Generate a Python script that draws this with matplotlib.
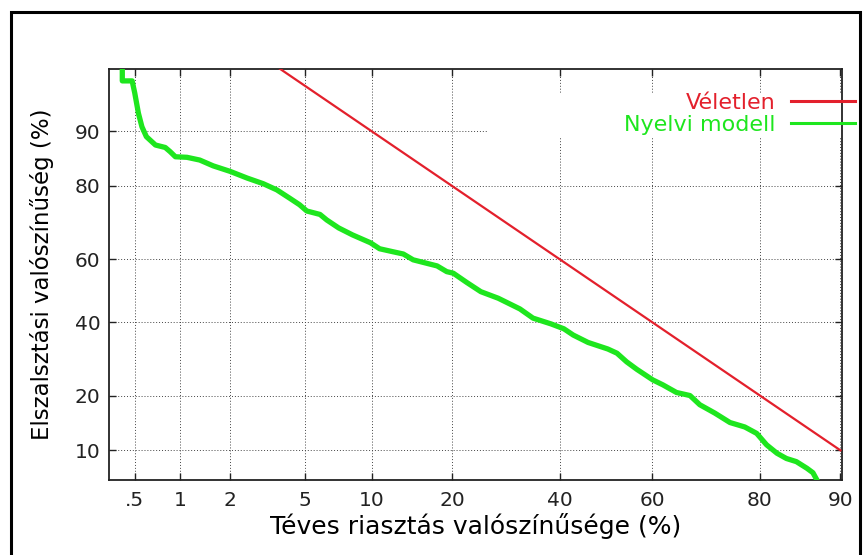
import numpy as np
import matplotlib
matplotlib.use("Agg")
import matplotlib.pyplot as plt
from matplotlib.patches import Rectangle
from statistics import NormalDist

plt.rcParams['font.family'] = ['DejaVu Sans']

# Adatok (százalékban)
tick_values = [0.5, 1, 2, 5, 10, 20, 40, 60, 80, 90]
tick_labels = ['.5', '1', '2', '5', '10', '20', '40', '60', '80', '90']
ytick_values = [10, 20, 40, 60, 80, 90]
ytick_labels = ['10', '20', '40', '60', '80', '90']

veletlen_fa = [1, 90]
veletlen_miss = [99, 10]

nyelvi_fa = [0.41, 0.41, 0.48, 0.50, 0.53, 0.56, 0.60, 0.69, 0.80, 0.86,
             0.93, 1.10, 1.32, 1.59, 2.0, 2.5, 3.05, 3.6, 4.2, 4.7,
             5.1, 5.9, 6.35, 7.2, 8.3, 9.9, 10.8, 12.2, 13.4, 14.6,
             16.4, 17.8, 19.2, 20.2, 22.3, 24.7, 27.8, 31.9, 34.5, 38.2,
             40.9, 42.9, 46.1, 50.4, 52.4, 54.5, 56.7, 60.1, 62.2, 65.0,
             67.7, 69.6, 72.4, 75.1, 77.6, 79.5, 81.0, 82.5, 83.8, 85.1,
             86.4, 87.1, 87.7]
nyelvi_miss = [97.0, 95.4, 95.4, 94.4, 92.3, 90.6, 89.2, 87.9, 87.5, 86.8,
               85.9, 85.8, 85.3, 84.2, 83.1, 81.7, 80.5, 79.1, 77.1, 75.5,
               73.9, 73.0, 71.5, 69.3, 67.3, 65.0, 63.2, 62.3, 61.6, 59.8,
               58.7, 57.9, 56.1, 55.6, 52.7, 49.7, 47.6, 44.2, 41.3, 39.5,
               38.0, 36.1, 33.9, 32.0, 30.8, 28.4, 26.4, 23.7, 22.5, 20.7,
               20.0, 18.0, 16.3, 14.5, 13.7, 12.6, 10.8, 9.6, 8.9, 8.5,
               7.7, 7.2, 6.2]

# Probit skála (DET görbe)
_nd = NormalDist()
_ppf = np.vectorize(lambda p: _nd.inv_cdf(min(max(p / 100.0, 1e-9), 1 - 1e-9)),
                    otypes=[float])
_cdf = np.vectorize(lambda z: 100.0 * _nd.cdf(z), otypes=[float])


def probit(p):
    return _ppf(np.asarray(p, dtype=float))


def inv_probit(z):
    return _cdf(np.asarray(z, dtype=float))


fig = plt.figure(figsize=(8.63, 5.55), dpi=100)
ax = fig.add_axes([109 / 863, 1 - 480 / 555, 733 / 863, 411 / 555])
ax.set_xscale('function', functions=(probit, inv_probit))
ax.set_yscale('function', functions=(probit, inv_probit))

ax.plot(veletlen_fa, veletlen_miss, color='#e3202c', lw=1.6, label='Véletlen', zorder=3)
ax.plot(nyelvi_fa, nyelvi_miss, color='#1ee61e', lw=3.8, label='Nyelvi modell', zorder=4)

ax.set_xlim(0.33, 90.15)
ax.set_ylim(6.43, 96.25)
ax.set_xticks(tick_values)
ax.set_xticklabels(tick_labels)
ax.set_yticks(ytick_values)
ax.set_yticklabels(ytick_labels)
ax.minorticks_off()
ax.tick_params(direction='in', length=5, width=1, top=True, right=True,
               labelsize=14.5, colors='#222222')
ax.tick_params(axis='x', pad=8)
ax.tick_params(axis='y', pad=6)
ax.grid(True, color='#444444', linestyle=(0, (1, 2)), linewidth=0.7)
for s in ax.spines.values():
    s.set_linewidth(1.3)
    s.set_color('#222222')

# a jelmagyarázat alatti üres sáv
ax.add_patch(Rectangle((0.516, 0.835), 0.49, 0.107, transform=ax.transAxes,
                       facecolor='white', edgecolor='none', zorder=2, clip_on=False))

leg = ax.legend(loc='upper right', bbox_to_anchor=(855 / 863, 1 - 93 / 555),
                bbox_transform=fig.transFigure, frameon=False, markerfirst=False,
                alignment='right', fontsize=16, handlelength=2.9, handletextpad=0.68,
                labelspacing=0.08, borderaxespad=0, borderpad=0)
for txt, line in zip(leg.get_texts(), leg.get_lines()):
    txt.set_color(line.get_color())
for line in leg.get_lines():
    line.set_linewidth(2.2)

ax.set_xlabel('Téves riasztás valószínűsége (%)', fontsize=18, labelpad=2)
ax.set_ylabel('Elszalsztási valószínűség (%)', fontsize=16.5, labelpad=15)

# keret
fig.patches.append(Rectangle((11 / 863, -0.1), (860 - 11) / 863, 1.1 - 12 / 555,
                             transform=fig.transFigure, fill=False,
                             edgecolor='black', linewidth=2.2))

fig.savefig('out.png', dpi=100)
